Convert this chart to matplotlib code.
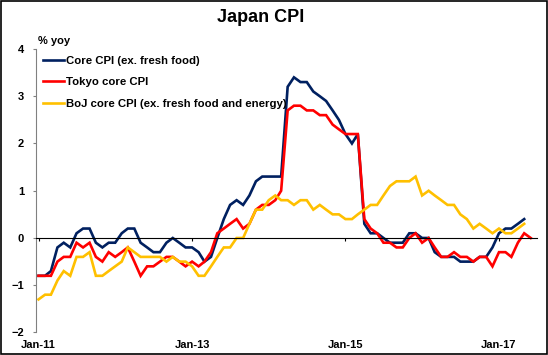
import pandas as pd
import matplotlib
matplotlib.use("Agg")
import matplotlib.pyplot as plt
import matplotlib.dates as mdates
from matplotlib.patches import Rectangle

plt.rcParams['font.family'] = ['Liberation Sans', 'DejaVu Sans']
plt.rcParams['font.weight'] = 'bold'

# % yoy, monthly from Jan-11
core_cpi = [-0.8, -0.8, -0.7, -0.2, -0.1, -0.2, 0.1, 0.2, 0.2, -0.1, -0.2, -0.1,
            -0.1, 0.1, 0.2, 0.2, -0.1, -0.2, -0.3, -0.3, -0.1, 0.0, -0.1, -0.2,
            -0.2, -0.3, -0.5, -0.4, 0.0, 0.4, 0.7, 0.8, 0.7, 0.9, 1.2, 1.3,
            1.3, 1.3, 1.3, 3.2, 3.4, 3.3, 3.3, 3.1, 3.0, 2.9, 2.7, 2.5,
            2.2, 2.0, 2.2, 0.3, 0.1, 0.1, 0.0, -0.1, -0.1, -0.1, 0.1, 0.1,
            0.0, 0.0, -0.3, -0.4, -0.4, -0.4, -0.5, -0.5, -0.5, -0.4, -0.4, -0.2,
            0.1, 0.2, 0.2, 0.3, 0.4]
tokyo_core = [-0.8, -0.8, -0.8, -0.5, -0.4, -0.4, -0.1, -0.2, -0.1, -0.4, -0.5, -0.3,
              -0.4, -0.3, -0.2, -0.5, -0.8, -0.6, -0.6, -0.5, -0.4, -0.4, -0.5, -0.6,
              -0.5, -0.6, -0.5, -0.3, 0.1, 0.2, 0.3, 0.4, 0.2, 0.3, 0.6, 0.7,
              0.7, 0.8, 1.0, 2.7, 2.8, 2.8, 2.7, 2.7, 2.6, 2.6, 2.4, 2.3,
              2.2, 2.2, 2.2, 0.4, 0.2, 0.1, -0.1, -0.1, -0.2, -0.2, 0.0, 0.1,
              -0.1, 0.0, -0.2, -0.4, -0.4, -0.3, -0.4, -0.4, -0.5, -0.4, -0.4, -0.6,
              -0.3, -0.3, -0.4, -0.1, 0.1, 0.0]
boj_core = [-1.3, -1.2, -1.2, -0.9, -0.7, -0.8, -0.4, -0.4, -0.3, -0.8, -0.8, -0.7,
            -0.6, -0.5, -0.2, -0.3, -0.4, -0.4, -0.4, -0.4, -0.5, -0.4, -0.5, -0.5,
            -0.6, -0.8, -0.8, -0.6, -0.4, -0.2, -0.2, 0.0, 0.0, 0.3, 0.6, 0.6,
            0.8, 0.9, 0.8, 0.8, 0.7, 0.8, 0.8, 0.6, 0.7, 0.6, 0.5, 0.5,
            0.4, 0.4, 0.5, 0.6, 0.7, 0.7, 0.9, 1.1, 1.2, 1.2, 1.2, 1.3,
            0.9, 1.0, 0.9, 0.8, 0.7, 0.7, 0.5, 0.4, 0.2, 0.3, 0.2, 0.1,
            0.2, 0.1, 0.1, 0.2, 0.3]

labels = ['Core CPI (ex. fresh food)', 'Tokyo core CPI',
          'BoJ core CPI (ex. fresh food and energy)']
colors = ['#002060', '#FF0000', '#FFC000']
tick_dates = pd.to_datetime(['2011-01-01', '2013-01-01', '2015-01-01', '2017-01-01'])

fig = plt.figure(figsize=(5.48, 3.55), dpi=100)
ax = fig.add_axes([36 / 548, 0.0634, 0.915, 0.7986])

for vals, lab, col in zip([core_cpi, tokyo_core, boj_core], labels, colors):
    dates = pd.date_range('2011-01-01', periods=len(vals), freq='MS')
    ax.plot(dates, vals, color=col, lw=1.9, label=lab, solid_joinstyle='miter')

ax.set_ylim(-2, 4)
ax.set_yticks(range(-2, 5))
ax.set_xlim(pd.Timestamp('2010-12-20'), pd.Timestamp('2017-07-03'))
ax.set_xticks(tick_dates)
ax.xaxis.set_major_formatter(mdates.DateFormatter('%b-%y'))

ax.spines['top'].set_visible(False)
ax.spines['right'].set_visible(False)
ax.spines['bottom'].set_position(('data', 0))
ax.spines['bottom'].set_linewidth(0.8)
ax.spines['left'].set_color('#808080')
ax.tick_params(axis='x', direction='out', length=2.5, width=0.8, pad=71, labelsize=8)
ax.tick_params(axis='y', direction='out', length=2.5, width=0.8, pad=6, labelsize=8,
               color='#808080')

fig.text(261 / 548, 1 - 17 / 355, 'Japan CPI', ha='center', va='center',
         fontsize=13, fontweight='bold')
fig.text(38 / 548, 1 - 41 / 355, '% yoy', ha='left', va='center', fontsize=8,
         fontweight='bold')

ax.legend(loc='upper left', bbox_to_anchor=(43 / 548, 1 - 56 / 355),
          bbox_transform=fig.transFigure, frameon=False, borderpad=0,
          borderaxespad=0, handlelength=1.8, handletextpad=0.2,
          labelspacing=1.0, prop={'size': 8.2, 'weight': 'bold'})

fig.add_artist(Rectangle((0.001, 0.0015), 0.998, 0.996, transform=fig.transFigure,
                         fill=False, ec='black', lw=1.2))

fig.savefig('out.png', dpi=100)
